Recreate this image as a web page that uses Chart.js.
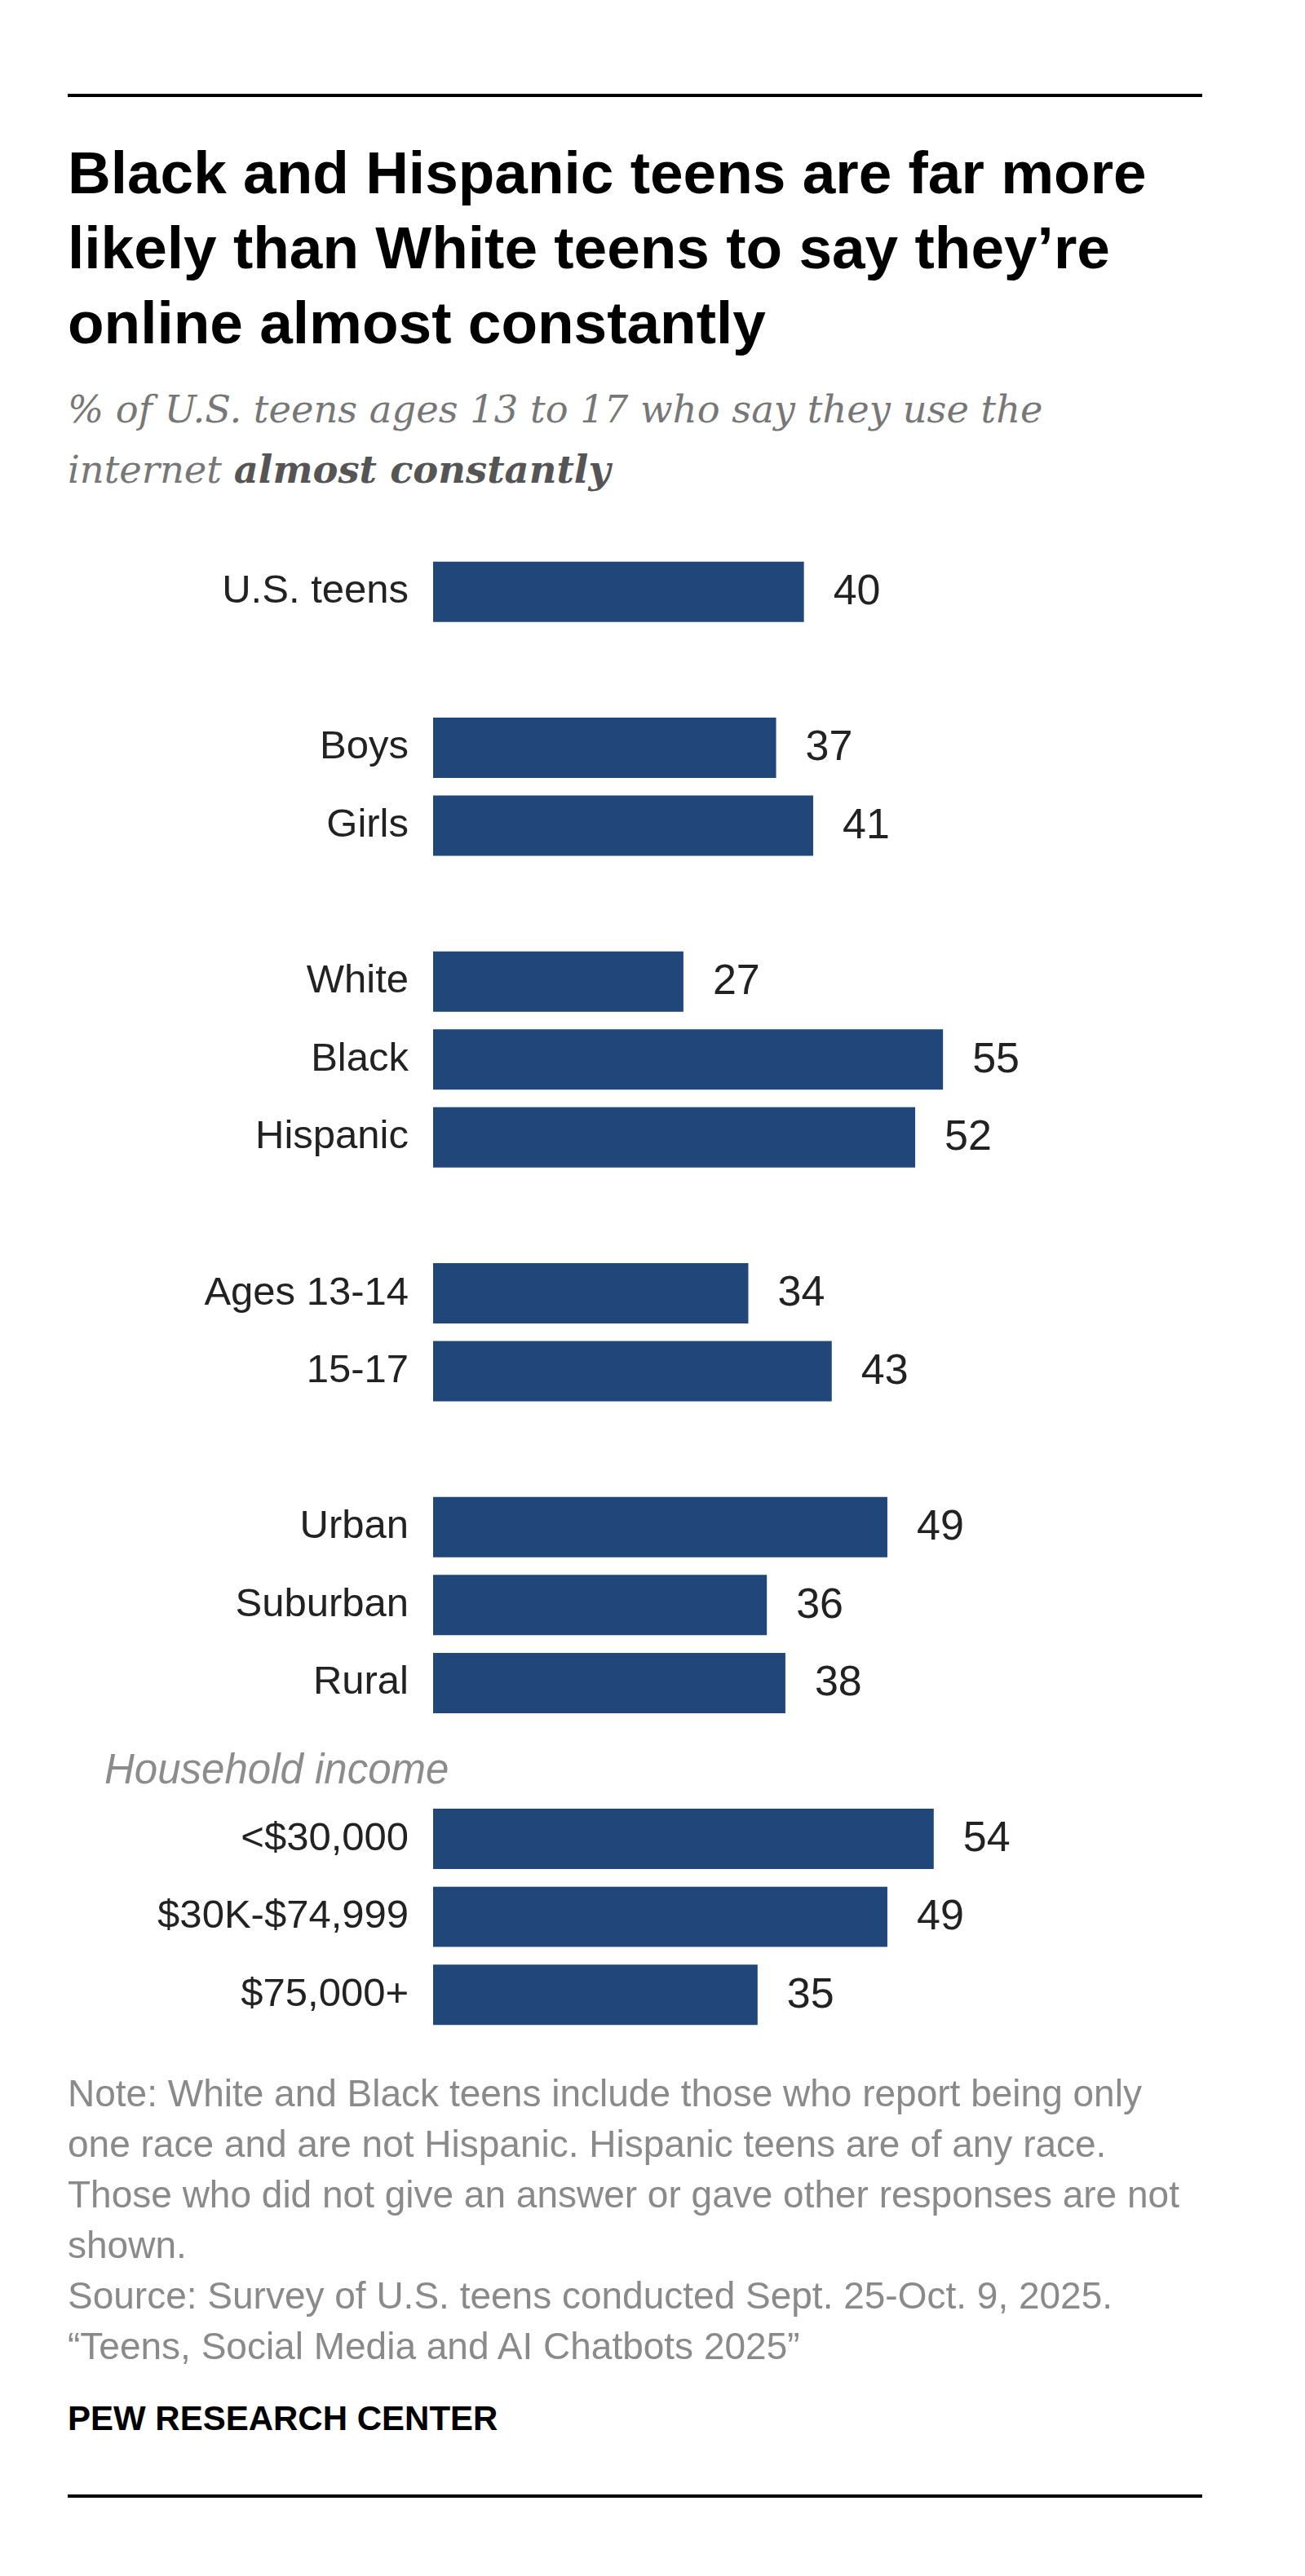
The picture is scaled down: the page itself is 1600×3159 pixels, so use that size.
<!DOCTYPE html>
<html>
<head>
<meta charset="utf-8">
<title>Teens online almost constantly</title>
<script src="https://cdn.jsdelivr.net/npm/chart.js"></script>
<style>
    body { margin: 0; background: #fff; width: 1600px; height: 3159px; position: relative; font-family: "Liberation Sans", Arial, sans-serif; }
    .rule { position: absolute; left: 83px; width: 1391px; height: 4px; background: #000; }
    #title { position: absolute; left: 83px; top: 166px; font-size: 73px; line-height: 92px; font-weight: bold; color: #000; white-space: nowrap; }
    #subtitle { position: absolute; left: 83px; top: 466px; font-family: "DejaVu Serif", serif; font-style: italic; font-size: 46.4px; line-height: 73px; color: #777; white-space: nowrap; }
    #subtitle b { color: #555; }
    #chartBox { position: absolute; left: 0; top: 640px; }
    #notes { position: absolute; left: 83px; top: 2536px; font-size: 46px; line-height: 62px; color: #8a8a8a; white-space: nowrap; }
    #logo { position: absolute; left: 83px; top: 2945px; font-size: 42px; line-height: 42px; font-weight: bold; color: #000; }
</style>
</head>
<body>
    <div class="rule" style="top:115px"></div>
    <div id="title">Black and Hispanic teens are far more<br>likely than White teens to say they’re<br>online almost constantly</div>
    <div id="subtitle">% of U.S. teens ages 13 to 17 who say they use the<br>internet <b>almost constantly</b></div>

    <div id="chartBox"><canvas id="chart" width="1600" height="1900"></canvas></div>

    <div id="notes">Note: White and Black teens include those who report being only<br>one race and are not Hispanic. Hispanic teens are of any race.<br>Those who did not give an answer or gave other responses are not<br>shown.<br>Source: Survey of U.S. teens conducted Sept. 25-Oct. 9, 2025.<br>“Teens, Social Media and AI Chatbots 2025”</div>
    <div id="logo">PEW RESEARCH CENTER</div>
    <div class="rule" style="top:3059px"></div>

    <script>
        // rows of the chart; "" = spacer row between groups
        var categories = ["U.S. teens", "", "Boys", "Girls", "", "White", "Black", "Hispanic", "",
            "Ages 13-14", "15-17", "", "Urban", "Suburban", "Rural", "Household income",
            "<$30,000", "$30K-$74,999", "$75,000+"];
        var values = [40, null, 37, 41, null, 27, 55, 52, null, 34, 43, null, 49, 36, 38, null, 54, 49, 35];
        var headerRows = ["Household income"];

        var fontFamily = '"Liberation Sans", Arial, sans-serif';

        // numbers at the end of the bars + the italic group header
        var valueLabels = {
            id: "valueLabels",
            afterDatasetsDraw: function (chart) {
                var ctx = chart.ctx;
                var meta = chart.getDatasetMeta(0);
                ctx.save();
                ctx.font = "52px " + fontFamily;
                ctx.fillStyle = "#222";
                ctx.textBaseline = "middle";
                ctx.textAlign = "left";
                meta.data.forEach(function (bar, i) {
                    if (values[i] == null) return;
                    ctx.fillText(values[i], bar.x + 36, bar.y + 1);
                });

                var yScale = chart.scales.y;
                ctx.font = "italic 51px " + fontFamily;
                ctx.fillStyle = "#8c8c8c";
                headerRows.forEach(function (h) {
                    var y = yScale.getPixelForValue(categories.indexOf(h));
                    ctx.fillText(h, 128, y + 13);
                });
                ctx.restore();
            }
        };

        var ctx = document.getElementById("chart").getContext("2d");
        var chart = new Chart(ctx, {
            type: "bar",
            data: {
                labels: categories,
                datasets: [{
                    data: values,
                    backgroundColor: "#21477a",
                    categoryPercentage: 1,
                    barPercentage: 0.774
                }]
            },
            options: {
                indexAxis: "y",
                responsive: false,
                animation: false,
                layout: { padding: { top: 38, bottom: 46, left: 0, right: 387 } },
                plugins: {
                    legend: { display: false },
                    tooltip: { enabled: false }
                },
                scales: {
                    x: { display: false, min: 0, max: 60 },
                    y: {
                        grid: { display: false, drawTicks: false },
                        border: { display: false },
                        ticks: {
                            autoSkip: false,
                            padding: 30,
                            color: "#222",
                            font: { family: fontFamily, size: 49 },
                            callback: function (v, i) {
                                var label = categories[i];
                                return headerRows.indexOf(label) >= 0 ? "" : label;
                            }
                        },
                        afterFit: function (scale) {
                            scale.width = 531;
                            // keep the rows on the layout padding only
                            scale.paddingTop = 0;
                            scale.paddingBottom = 0;
                        }
                    }
                }
            },
            plugins: [valueLabels]
        });
    </script>
</body>
</html>
